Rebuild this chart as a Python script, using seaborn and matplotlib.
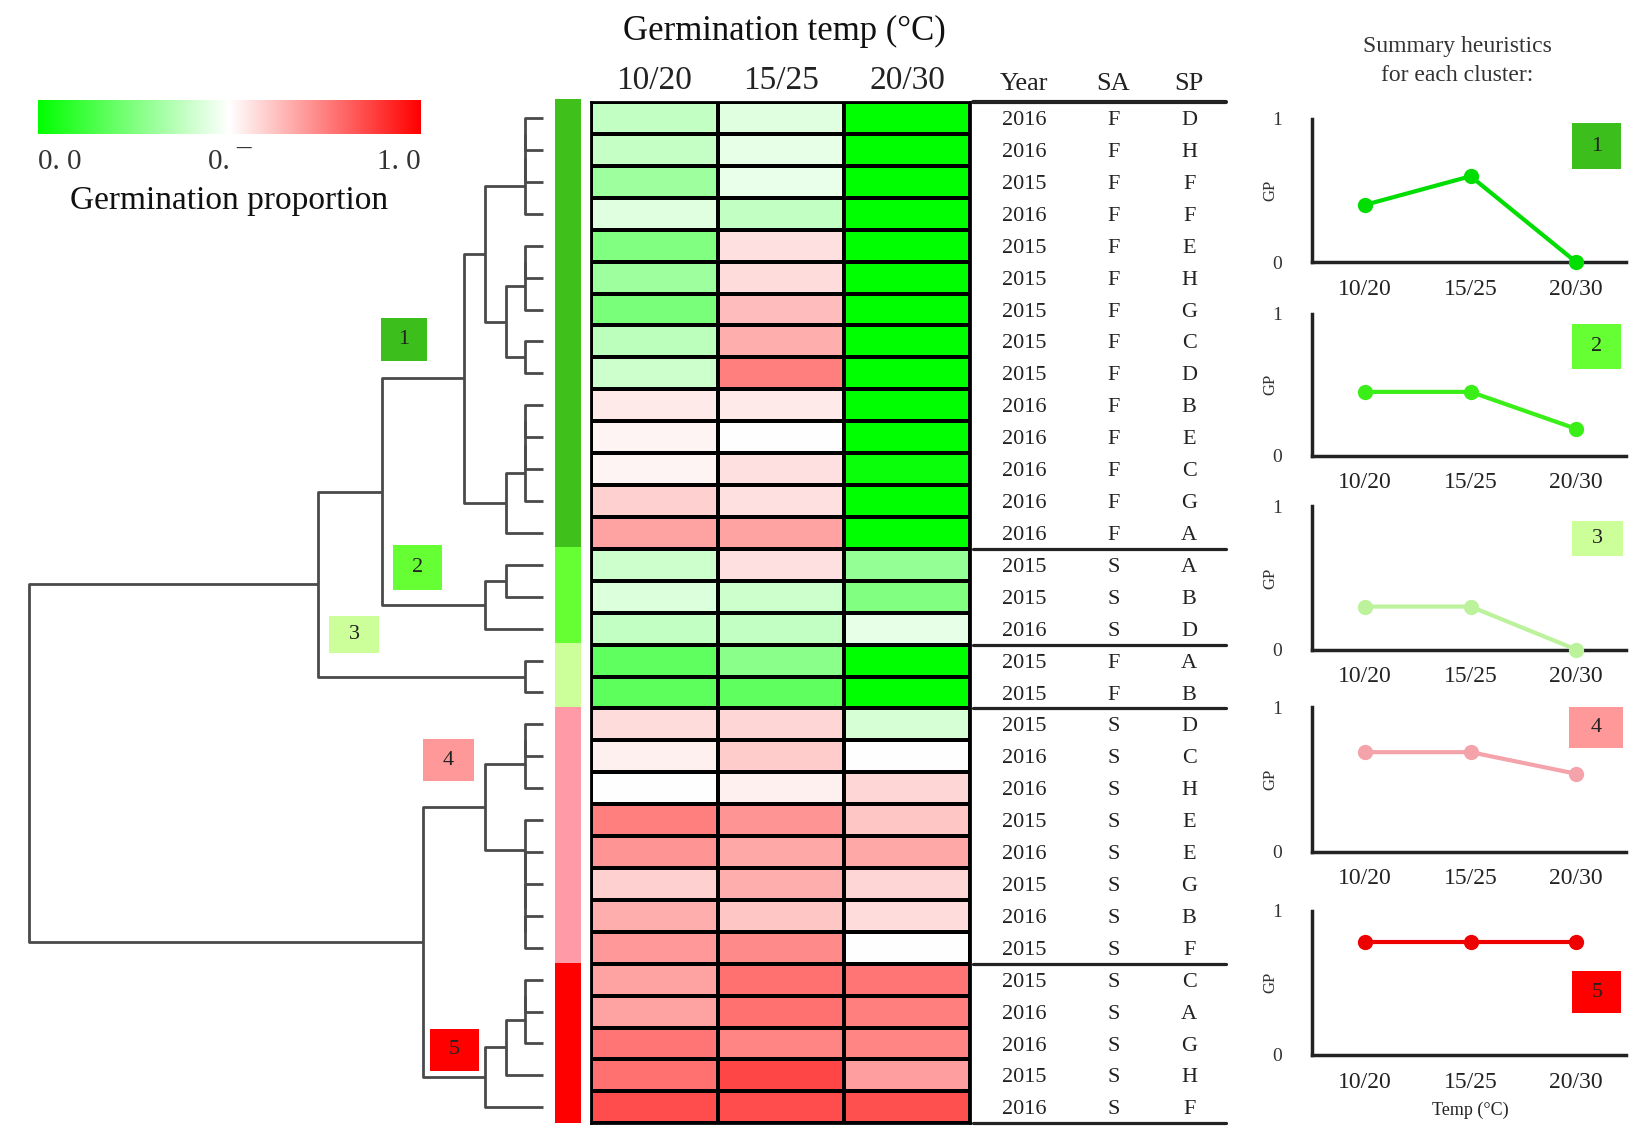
import numpy as np
import pandas as pd
import matplotlib
matplotlib.use("Agg")
import matplotlib.pyplot as plt
from matplotlib.colors import LinearSegmentedColormap, ListedColormap
from matplotlib.patches import Rectangle
import seaborn as sns

# ---------------- data ----------------
temps = ["10/20", "15/25", "20/30"]
years = [2016, 2016, 2015, 2016, 2015, 2015, 2015, 2015, 2015, 2016, 2016, 2016, 2016, 2016,
         2015, 2015, 2016,
         2015, 2015,
         2015, 2016, 2016, 2015, 2016, 2015, 2016, 2015,
         2015, 2016, 2016, 2015, 2016]
sa = ["F"] * 14 + ["S"] * 3 + ["F"] * 2 + ["S"] * 13
sp = ["D", "H", "F", "F", "E", "H", "G", "C", "D", "B", "E", "C", "G", "A",
      "A", "B", "D",
      "A", "B",
      "D", "C", "H", "E", "E", "G", "B", "F",
      "C", "A", "G", "H", "F"]
gp_1020 = [0.38, 0.39, 0.31, 0.44, 0.25, 0.31, 0.24, 0.37, 0.40, 0.54, 0.52, 0.52, 0.59, 0.68,
           0.40, 0.43, 0.38,
           0.19, 0.18,
           0.57, 0.53, 0.50, 0.75, 0.71, 0.59, 0.66, 0.70,
           0.68, 0.68, 0.77, 0.78, 0.85]
gp_1525 = [0.44, 0.45, 0.46, 0.38, 0.56, 0.57, 0.63, 0.66, 0.75, 0.54, 0.50, 0.56, 0.56, 0.68,
           0.56, 0.40, 0.38,
           0.27, 0.19,
           0.58, 0.60, 0.53, 0.71, 0.67, 0.66, 0.61, 0.73,
           0.78, 0.78, 0.74, 0.86, 0.85]
gp_2030 = [0.00, 0.00, 0.00, 0.00, 0.00, 0.00, 0.00, 0.00, 0.00, 0.00, 0.00, 0.02, 0.00, 0.00,
           0.29, 0.25, 0.45,
           0.00, 0.00,
           0.42, 0.50, 0.58, 0.61, 0.67, 0.58, 0.57, 0.50,
           0.77, 0.75, 0.74, 0.69, 0.84]
cluster_id = [1] * 14 + [2] * 3 + [3] * 2 + [4] * 8 + [5] * 5

# dendrogram merges (leaf ids 0..31 are rows, new node ids start at 32)
merge_a = [0, 32, 33, 4, 35, 7, 36, 34, 9, 40, 41, 42, 39, 14, 45, 44, 17, 47,
           19, 50, 25, 24, 23, 22, 51, 27, 57, 58, 59, 56, 49]
merge_b = [1, 2, 3, 5, 6, 8, 37, 38, 10, 11, 12, 13, 43, 15, 16, 46, 18, 48,
           20, 21, 26, 52, 53, 54, 55, 28, 29, 30, 31, 60, 61]
merge_h = [0.35, 0.35, 0.35, 0.35, 0.35, 0.35, 0.72, 1.13, 0.35, 0.35, 0.35, 0.72, 1.54,
           0.72, 1.13, 3.14, 0.35, 4.38,
           0.35, 0.35, 0.35, 0.35, 0.35, 0.35, 1.13, 0.35, 0.35, 0.72, 1.13, 2.34, 10.0]

cluster_names = ["1", "2", "3", "4", "5"]
summary_1020 = [0.40, 0.45, 0.30, 0.69, 0.78]
summary_1525 = [0.60, 0.45, 0.30, 0.69, 0.78]
summary_2030 = [0.00, 0.19, 0.00, 0.54, 0.78]

# ---------------- style ----------------
cluster_colors = ["#40c01a", "#66ff33", "#ccff99", "#ff9aa6", "#ff0000"]
box_colors = ["#3cbf1c", "#66ff33", "#ccff99", "#ff9999", "#ff0000"]
line_colors = ["#00dd00", "#3aee18", "#bdf29c", "#f5a3aa", "#ee0000"]
gp_cmap = LinearSegmentedColormap.from_list("gwr", ["#00ff00", "#ffffff", "#ff0000"])

sns.set_style("white")
plt.rcParams["font.family"] = ["Liberation Serif", "DejaVu Serif"]

W, H = 1568.0, 1081.0


def rect(x0, y0, x1, y1):
    return [x0 / W, 1 - y1 / H, (x1 - x0) / W, (y1 - y0) / H]


fig = plt.figure(figsize=(16.5, 11.38), dpi=100)

ROW_TOP, ROW_BOT = 97, 1067

# ---------------- colorbar ----------------
ax_cb = fig.add_axes(rect(36, 95, 400, 127))
sm = plt.cm.ScalarMappable(cmap=gp_cmap, norm=plt.Normalize(0, 1))
cb = fig.colorbar(sm, cax=ax_cb, orientation="horizontal")
cb.outline.set_visible(False)
cb.set_ticks([0, 0.5, 1])
cb.set_ticklabels(["0. 0", "0. \u00af", "1. 0"])
ax_cb.tick_params(length=0, labelsize=21, pad=11, colors="#333333")
labs = ax_cb.get_xticklabels()
labs[0].set_ha("left")
labs[2].set_ha("right")
fig.text(218 / W, 1 - 191 / H, "Germination proportion", ha="center", va="center",
         fontsize=24, color="#111111")

# ---------------- dendrogram ----------------
ax_d = fig.add_axes(rect(20, ROW_TOP, 520, ROW_BOT))
pos = {i: float(i) for i in range(len(years))}
hgt = {i: 0.0 for i in range(len(years))}
for k, (a, b, h) in enumerate(zip(merge_a, merge_b, merge_h)):
    node = len(years) + k
    ax_d.plot([hgt[a], h, h, hgt[b]], [pos[a], pos[a], pos[b], pos[b]],
              color="#4a4a4a", lw=2.0, solid_capstyle="butt")
    pos[node] = (pos[a] + pos[b]) / 2
    hgt[node] = h
ax_d.set_xlim(10.164, -0.082)
ax_d.set_ylim(len(years) - 0.5, -0.5)
ax_d.axis("off")

# cluster number boxes on dendrogram
dendro_boxes = [(362, 302, 406, 343), (373, 518, 420, 560), (313, 585, 360, 620),
                (402, 702, 450, 742), (409, 977, 455, 1017)]
for (x0, y0, x1, y1), c, name in zip(dendro_boxes, box_colors, cluster_names):
    r = rect(x0, y0, x1, y1)
    fig.add_artist(Rectangle((r[0], r[1]), r[2], r[3], transform=fig.transFigure,
                             facecolor=c, edgecolor="none"))
    fig.text(r[0] + r[2] / 2, r[1] + r[3] / 2, name, ha="center", va="center",
             fontsize=16, color="#222222")

# ---------------- cluster strip ----------------
ax_s = fig.add_axes(rect(527, 94, 552, ROW_BOT))
sns.heatmap(pd.DataFrame({"c": cluster_id}), ax=ax_s, cmap=ListedColormap(cluster_colors),
            vmin=0.5, vmax=5.5, cbar=False, xticklabels=False, yticklabels=False)

# ---------------- heatmap ----------------
ax_h = fig.add_axes(rect(562, ROW_TOP, 922, ROW_BOT))
df = pd.DataFrame({temps[0]: gp_1020, temps[1]: gp_1525, temps[2]: gp_2030})
sns.heatmap(df, ax=ax_h, cmap=gp_cmap, vmin=0, vmax=1, cbar=False, linewidths=2.6,
            linecolor="black", xticklabels=False, yticklabels=False)
for sp_ in ax_h.spines.values():
    sp_.set_visible(True)
    sp_.set_linewidth(2.0)
    sp_.set_color("black")
for j, t in enumerate(temps):
    ax_h.text(j + 0.5, -0.68, t, ha="center", va="center", fontsize=24, color="#222222")
fig.text(745 / W, 1 - 30 / H, "Germination temp (\u00b0C)", ha="center", va="center",
         fontsize=25, color="#111111")

# ---------------- table ----------------
ax_t = fig.add_axes(rect(922, ROW_TOP, 1165, ROW_BOT))
ax_t.set_xlim(0, 1)
ax_t.set_ylim(len(years) - 0.5, -0.5)
ax_t.axis("off")
col_x = [0.21, 0.56, 0.856]
for x, t in zip(col_x, ["Year", "SA", "SP"]):
    ax_t.text(x, -1.08, t, ha="center", va="center", fontsize=19, color="#222222")
for i, (y, a, s) in enumerate(zip(years, sa, sp)):
    for x, t in zip(col_x, [str(y), a, s]):
        ax_t.text(x, i + 0.08, t, ha="center", va="center", fontsize=16, color="#222222")
ax_t.plot([0.012, 1], [-0.5, -0.5], color="#222222", lw=3.0, clip_on=False)
bounds = [i + 0.5 for i in range(len(cluster_id) - 1) if cluster_id[i] != cluster_id[i + 1]]
for b in bounds + [len(years) - 0.5]:
    ax_t.plot([0.012, 1], [b, b], color="#222222", lw=2.3, clip_on=False)

# ---------------- summary panels ----------------
fig.text(1385 / W, 1 - 58 / H, "Summary heuristics\nfor each cluster:", ha="center",
         va="center", fontsize=17, color="#333333", linespacing=1.5)
panel_tb = [(113, 249), (298, 433), (481, 617), (672, 809), (865, 1002)]
panel_box = [(0.83, 0.65, 0.985, 0.97), (0.83, 0.61, 0.985, 0.93), (0.83, 0.65, 0.99, 0.90),
             (0.82, 0.72, 0.99, 1.0), (0.83, 0.29, 0.985, 0.58)]
for k in range(5):
    top, bot = panel_tb[k]
    ax = fig.add_axes(rect(1247, top, 1545, bot))
    vals = [summary_1020[k], summary_1525[k], summary_2030[k]]
    sns.lineplot(x=temps, y=vals, ax=ax, color=line_colors[k], lw=3, marker="o",
                 markersize=11, markeredgewidth=0, clip_on=False, zorder=5)
    ax.set_xlim(-0.5, 2.47)
    ax.set_ylim(0, 1)
    ax.set_yticks([0, 1])
    ax.set_yticklabels(["0", "1"])
    ax.tick_params(axis="y", length=0, labelsize=14, pad=22, colors="#333333")
    ax.tick_params(axis="x", length=0, labelsize=17, pad=12, colors="#222222")
    for s in ["top", "right"]:
        ax.spines[s].set_visible(False)
    for s in ["left", "bottom"]:
        ax.spines[s].set_linewidth(2.5)
        ax.spines[s].set_color("#222222")
    ax.set_xlabel("")
    ax.set_ylabel("")
    ax.text(-0.134, 0.5, "GP", transform=ax.transAxes, rotation=90, ha="center",
            va="center", fontsize=12, color="#333333")
    bx0, by0, bx1, by1 = panel_box[k]
    ax.add_patch(Rectangle((bx0, by0), bx1 - bx0, by1 - by0, transform=ax.transAxes,
                           facecolor=box_colors[k], edgecolor="none", clip_on=False))
    ax.text((bx0 + bx1) / 2, (by0 + by1) / 2, cluster_names[k], transform=ax.transAxes,
            ha="center", va="center", fontsize=16, color="#222222")
fig.text(1397 / W, 1 - 1055 / H, "Temp (\u00b0C)", ha="center", va="center", fontsize=13,
         color="#222222")

fig.savefig("out.png", dpi=100, facecolor="white")
